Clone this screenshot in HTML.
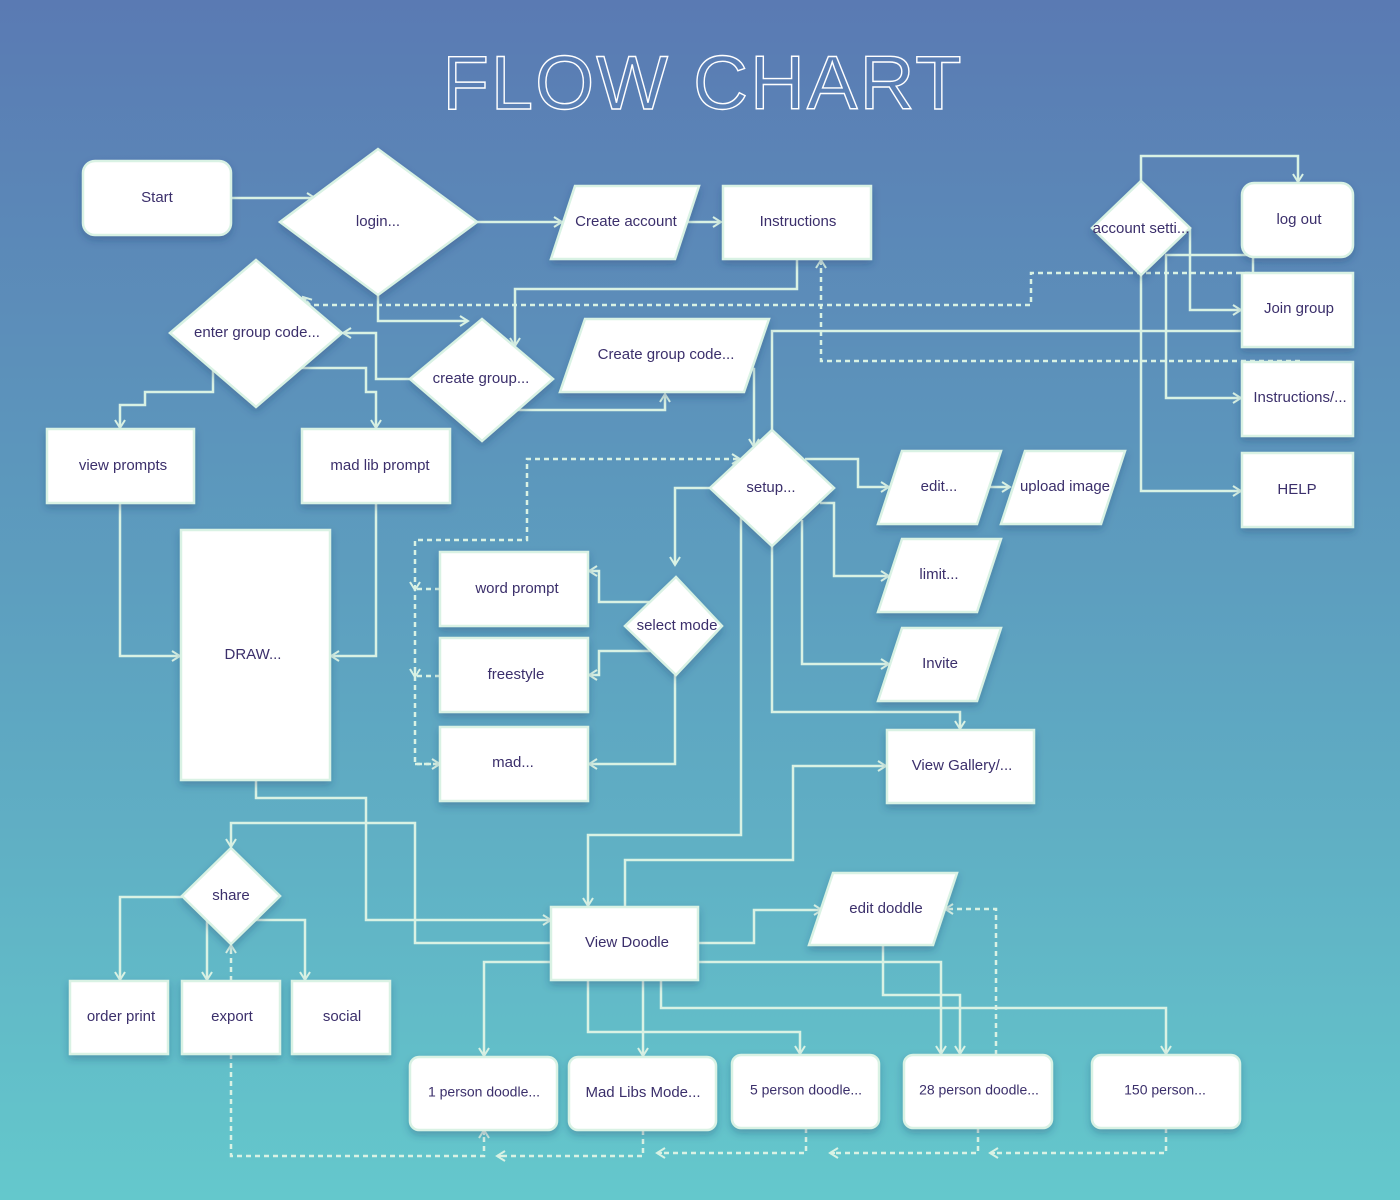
<!DOCTYPE html>
<html><head><meta charset="utf-8"><style>
html,body{margin:0;padding:0;}
body{width:1400px;height:1200px;overflow:hidden;}
svg{display:block;}
text{font-family:"Liberation Sans",sans-serif;font-size:15px;fill:#3b2f6b;text-anchor:middle;dominant-baseline:middle;}
</style></head><body>
<svg width="1400" height="1200" viewBox="0 0 1400 1200" xmlns="http://www.w3.org/2000/svg">
<defs>
<linearGradient id="bg" x1="0" y1="0" x2="0" y2="1">
<stop offset="0" stop-color="#5a7ab3"/><stop offset="0.5" stop-color="#5d9fbf"/><stop offset="1" stop-color="#64c8cc"/>
</linearGradient>
<filter id="sh" x="-20%" y="-20%" width="140%" height="150%"><feDropShadow dx="0" dy="4" stdDeviation="4" flood-color="#1d3a6a" flood-opacity="0.3"/></filter>
<marker id="a" markerWidth="12" markerHeight="12" refX="9" refY="6" orient="auto" markerUnits="userSpaceOnUse">
<path d="M1,1 L9,6 L1,11 M4,6 L9,6" fill="none" stroke="#d9f2e4" stroke-width="2"/></marker>
</defs>
<rect width="1400" height="1200" fill="url(#bg)"/>
<text x="703" y="89" style="font-size:76px;fill:none;stroke:#fff;stroke-width:1.4;letter-spacing:2px">FLOW CHART</text>

<g fill="none" stroke="#d9f2e4" stroke-width="2.5">
<g marker-end="url(#a)">
<polyline points="231,198 315,198"/>
<polyline points="477,222 562,222"/>
<polyline points="687,222 721,222"/>
<polyline points="797,259 797,289 515,289 515,346"/>
<polyline points="378,295 378,321 468,321"/>
<polyline points="410,379 376,379 376,333 343,333"/>
<polyline points="518,410 665,410 665,394"/>
<polyline points="744,369 754,369 754,447"/>
<polyline points="1141,181 1141,156 1298,156 1298,182"/>
<polyline points="1190,228 1190,310 1241,310"/>
<polyline points="1166,255 1166,398 1241,398"/>
<polyline points="1141,275 1141,491 1241,491"/>
<polyline points="213,370 213,392 145,392 145,405 120,405 120,428"/>
<polyline points="300,368 366,368 366,392 376,392 376,428"/>
<polyline points="120,503 120,656 180,656"/>
<polyline points="376,503 376,656 331,656"/>
<polyline points="805,459 858,459 858,487 889,487"/>
<polyline points="990,487 1010,487"/>
<polyline points="820,503 834,503 834,576 889,576"/>
<polyline points="802,520 802,664 889,664"/>
<polyline points="772,546 772,712 960,712 960,729"/>
<polyline points="710,488 675,488 675,565"/>
<polyline points="650,602 599,602 599,571 589,571"/>
<polyline points="650,651 599,651 599,675 589,675"/>
<polyline points="675,675 675,764 589,764"/>
<polyline points="741,516 741,835 588,835 588,906"/>
<polyline points="625,907 625,860 793,860 793,766 886,766"/>
<polyline points="256,780 256,798 366,798 366,920 551,920"/>
<polyline points="551,943 415,943 415,823 231,823 231,847"/>
<polyline points="182,897 120,897 120,980"/>
<polyline points="207,920 207,980"/>
<polyline points="255,920 305,920 305,980"/>
<polyline points="698,943 754,943 754,910 822,910"/>
<polyline points="551,962 484,962 484,1056"/>
<polyline points="588,980 588,1032 800,1032 800,1054"/>
<polyline points="643,980 643,1056"/>
<polyline points="698,962 941,962 941,1054"/>
<polyline points="661,980 661,1008 1166,1008 1166,1054"/>
<polyline points="883,945 883,995 960,995 960,1054"/>
</g>
<polyline points="1242,331 772,331 772,430"/>
<polyline points="1165,255 1253,255 1253,273"/>
<g stroke-dasharray="5,4" marker-end="url(#a)">
<polyline points="1250,273 1031,273 1031,305 310,305 303,297"/>
<polyline points="1300,361 821,361 821,260"/>
<polyline points="415,764 440,764"/>
<polyline points="440,764 415,764 415,540 527,540 527,459 740,459"/>
<polyline points="440,676 415,676 415,677"/>
<polyline points="440,589 415,589 415,590"/>
<polyline points="231,981 231,945"/>
<polyline points="996,1055 996,909 945,909"/>
<polyline points="231,1054 231,1156 484,1156 484,1130"/>
<polyline points="643,1130 643,1156 497,1156"/>
<polyline points="806,1128 806,1153 657,1153"/>
<polyline points="978,1128 978,1153 830,1153"/>
<polyline points="1166,1128 1166,1153 990,1153"/>
</g>
</g>

<g fill="#fff" stroke="#d9f2e4" stroke-width="2.5" filter="url(#sh)">
<rect x="83" y="161" width="148" height="74" rx="12"/>
<polygon points="280,222 378,149 477,222 378,295"/>
<polygon points="575,186 699,186 675,259 551,259"/>
<rect x="723" y="186" width="148" height="73"/>
<polygon points="170,333 256,260 342,333 256,407"/>
<polygon points="410,379 482,319 553,379 482,441"/>
<polygon points="585,319 769,319 744,392 560,392"/>
<polygon points="1092,228 1141,181 1190,228 1141,275"/>
<rect x="1242" y="183" width="111" height="74" rx="12"/>
<rect x="1242" y="273" width="111" height="74"/>
<rect x="1242" y="362" width="111" height="74"/>
<rect x="1242" y="453" width="111" height="74"/>
<rect x="47" y="429" width="147" height="74"/>
<rect x="302" y="429" width="148" height="74"/>
<rect x="181" y="530" width="149" height="250"/>
<polygon points="710,488 772,430 834,488 772,546"/>
<polygon points="902,451 1001,451 977,524 878,524"/>
<polygon points="1025,451 1125,451 1101,524 1001,524"/>
<polygon points="902,539 1001,539 977,612 878,612"/>
<polygon points="902,628 1001,628 977,701 878,701"/>
<rect x="887" y="730" width="147" height="73"/>
<rect x="440" y="552" width="148" height="74"/>
<rect x="440" y="638" width="148" height="74"/>
<rect x="440" y="727" width="148" height="74"/>
<polygon points="625,626 676,577 722,626 676,675"/>
<polygon points="182,896 231,848 280,896 231,944"/>
<rect x="70" y="981" width="98" height="73"/>
<rect x="182" y="981" width="98" height="73"/>
<rect x="292" y="981" width="98" height="73"/>
<rect x="551" y="907" width="147" height="73"/>
<polygon points="833,873 957,873 933,945 809,945"/>
<rect x="410" y="1057" width="147" height="73" rx="9"/>
<rect x="569" y="1057" width="147" height="73" rx="9"/>
<rect x="732" y="1055" width="147" height="73" rx="9"/>
<rect x="904" y="1055" width="148" height="73" rx="9"/>
<rect x="1092" y="1055" width="148" height="73" rx="9"/>
</g>

<text x="157" y="198">Start</text>
<text x="378" y="222">login...</text>
<text x="626" y="222">Create account</text>
<text x="798" y="222">Instructions</text>
<text x="257" y="333">enter group code...</text>
<text x="481" y="379">create group...</text>
<text x="666" y="355">Create group code...</text>
<text x="1141" y="229">account setti...</text>
<text x="1299" y="220">log out</text>
<text x="1299" y="309">Join group</text>
<text x="1300" y="398">Instructions/...</text>
<text x="1297" y="490">HELP</text>
<text x="123" y="466">view prompts</text>
<text x="380" y="466">mad lib prompt</text>
<text x="253" y="655">DRAW...</text>
<text x="771" y="488">setup...</text>
<text x="939" y="487">edit...</text>
<text x="1065" y="487">upload image</text>
<text x="939" y="575">limit...</text>
<text x="940" y="664">Invite</text>
<text x="962" y="766">View Gallery/...</text>
<text x="517" y="589">word prompt</text>
<text x="516" y="675">freestyle</text>
<text x="513" y="763">mad...</text>
<text x="677" y="626">select mode</text>
<text x="231" y="896">share</text>
<text x="121" y="1017">order print</text>
<text x="232" y="1017">export</text>
<text x="342" y="1017">social</text>
<text x="627" y="943">View Doodle</text>
<text x="886" y="909">edit doddle</text>
<text x="484" y="1093" style="font-size:14px">1 person doodle...</text>
<text x="643" y="1093">Mad Libs Mode...</text>
<text x="806" y="1091" style="font-size:14px">5 person doodle...</text>
<text x="979" y="1091" style="font-size:14px">28 person doodle...</text>
<text x="1165" y="1091" style="font-size:14px">150 person...</text>
</svg>
</body></html>
